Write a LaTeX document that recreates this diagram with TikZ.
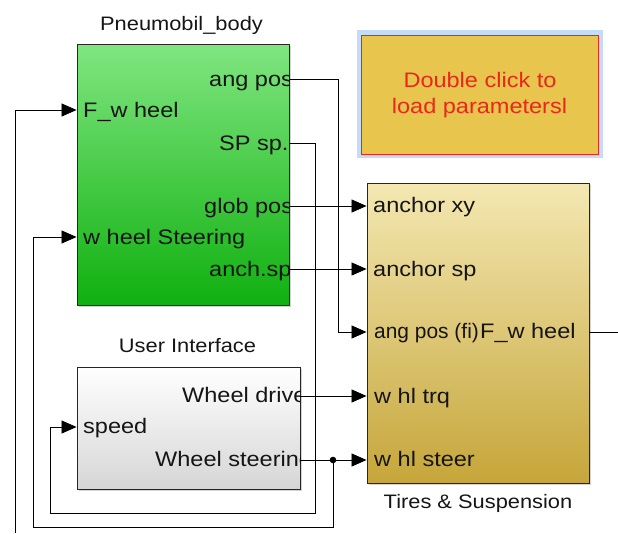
\documentclass[tikz,border=0pt]{standalone}
\usepackage{fontspec}
\setmainfont{Liberation Sans}[FakeStretch=1.12]
\usetikzlibrary{arrows.meta,shadows,calc}
\definecolor{pbtop}{HTML}{80E680}
\definecolor{pbbot}{HTML}{10B010}
\definecolor{tstop}{HTML}{F4E8B2}
\definecolor{tsbot}{HTML}{C6A63A}
\definecolor{uibot}{HTML}{D6D6D6}
\definecolor{pargold}{HTML}{E8C54C}
\definecolor{parred}{HTML}{E8281E}
\definecolor{parblue}{HTML}{C6DBF7}
\definecolor{ink}{HTML}{151515}
\begin{document}
\begin{tikzpicture}[x=1pt,y=-1pt,
  blk/.style={draw=black!85, line width=0.9pt, inner sep=0pt,
    drop shadow={shadow xshift=2pt,shadow yshift=-2pt,opacity=0.35}},
  lbl/.style={inner sep=0pt, anchor=base west, text=ink, font=\fontsize{21}{21}\selectfont},
  ttl/.style={inner sep=0pt, anchor=base, text=ink, font=\fontsize{19.5}{19.5}\selectfont},
  ptxt/.style={inner sep=0pt, anchor=base, text=parred, font=\fontsize{21}{21}\selectfont},
  wire/.style={line width=0.85pt, black},
  arr/.style={wire, -{Triangle[length=15pt,width=13pt]}},
]
\useasboundingbox (0,0) rectangle (618,533);

% parameter block
\fill[parblue] (357,30) rectangle (603,158);
\node[draw=parred, fill=pargold, line width=0.9pt, inner sep=0pt,
      minimum width=237pt, minimum height=119pt] (pr) at (479.5,94.5) {};
\node[ptxt] (pr1) at (480,87.3) {Double click to};
\node[ptxt] (pr2) at (479.5,113.3) {load parametersl};

% blocks
\node[blk, top color=pbtop, bottom color=pbbot, minimum width=212pt, minimum height=261pt] (pb) at (183,174.5) {};
\node[blk, top color=tstop, bottom color=tsbot, minimum width=222pt, minimum height=300pt] (ts) at (478,333) {};
\node[blk, top color=white, bottom color=uibot, minimum width=223pt, minimum height=122pt] (ui) at (188.5,428) {};

% titles
\node[ttl] (pbt) at (181.5,30.7) {Pneumobil\_body};
\node[ttl] (uit) at (187.5,352.7) {User Interface};
\node[ttl] (tst) at (478,508) {Tires \& Suspension};

% port labels
\begin{scope}
\clip (pb.north west) rectangle (pb.south east);
\node[lbl] (pbl1) at (83,117.5) {F\_w heel};
\node[lbl] (pbl2) at (83,244) {w heel Steering};
\node[lbl] (pbl3) at (209,86) {ang pos};
\node[lbl] (pbl4) at (219,150) {SP sp.};
\node[lbl] (pbl5) at (204,213) {glob pos};
\node[lbl] (pbl6) at (209,276) {anch.sp};
\end{scope}
\begin{scope}
\clip (ts.north west) rectangle (ts.south east);
\node[lbl] (tsl1) at (373,212) {anchor xy};
\node[lbl] (tsl2) at (373,276) {anchor sp};
\node[lbl] (tsl3) at (374,338.5) {\scalebox{0.89}[1]{ang pos (fi)}};
\node[lbl] (tsl4) at (480,338.5) {F\_w heel};
\node[lbl] (tsl5) at (374,403) {w hl trq};
\node[lbl] (tsl6) at (374,466) {w hl steer};
\end{scope}
\begin{scope}
\clip (ui.north west) rectangle (ui.south east);
\node[lbl] (uil1) at (182,402) {Wheel drive};
\node[lbl] (uil2) at (83,433) {speed};
\node[lbl] (uil3) at (155,466) {Wheel steering};
\end{scope}

% ports
\coordinate (pbF) at (pb.west |- 0,110);
\coordinate (pbSteer) at (pb.west |- 0,237);
\coordinate (pbAng) at (pb.east |- 0,79);
\coordinate (pbSP) at (pb.east |- 0,143);
\coordinate (pbGlob) at (pb.east |- 0,206);
\coordinate (pbAnch) at (pb.east |- 0,269);
\coordinate (tsXY) at (ts.west |- 0,206);
\coordinate (tsSP) at (ts.west |- 0,269);
\coordinate (tsAng) at (ts.west |- 0,332);
\coordinate (tsTrq) at (ts.west |- 0,396);
\coordinate (tsSteer) at (ts.west |- 0,460);
\coordinate (tsF) at (ts.east |- 0,332);
\coordinate (uiSpeed) at (ui.west |- 0,427);
\coordinate (uiDrive) at (ui.east |- 0,396);
\coordinate (uiSteer) at (ui.east |- 0,460);
\coordinate (jn) at (333,460);
\coordinate (edgeR) at (618,332);
\coordinate (edgeB) at (15,533);

% wires
\draw[arr] (pbAng) -| (338,332) -- (tsAng);
\draw[arr] (pbSP) -| (315,513) -| (50,427) -- (uiSpeed);
\draw[arr] (pbGlob) -- (tsXY);
\draw[arr] (pbAnch) -- (tsSP);
\draw[arr] (uiDrive) -- (tsTrq);
\draw[arr] (uiSteer) -- (tsSteer);
\draw[arr] (jn) |- (33,527) |- (pbSteer);
\fill (jn) circle[radius=3.3pt];
\draw[wire] (tsF) -- (edgeR);
\draw[arr] (edgeB) |- (pbF);
\end{tikzpicture}
\end{document}
